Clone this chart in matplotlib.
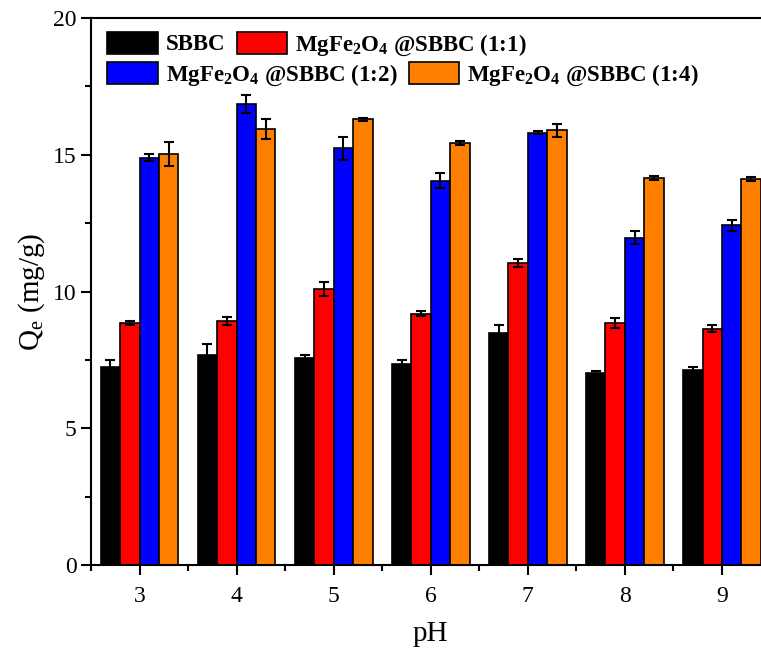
import numpy as np
import matplotlib
matplotlib.use('Agg')
import matplotlib.pyplot as plt
from matplotlib.ticker import MultipleLocator

plt.rcParams['font.family'] = ['Liberation Serif', 'DejaVu Serif']
plt.rcParams['mathtext.fontset'] = 'custom'
plt.rcParams['mathtext.rm'] = 'Liberation Serif'
plt.rcParams['mathtext.default'] = 'regular'

ph = [3, 4, 5, 6, 7, 8, 9]

sbbc = [7.25, 7.67, 7.58, 7.34, 8.47, 7.03, 7.13]
sbbc_err = [0.25, 0.41, 0.10, 0.16, 0.30, 0.07, 0.11]

mf_11 = [8.86, 8.93, 10.08, 9.19, 11.04, 8.84, 8.64]
mf_11_err = [0.07, 0.15, 0.25, 0.08, 0.16, 0.19, 0.13]

mf_12 = [14.89, 16.86, 15.23, 14.05, 15.81, 11.97, 12.42]
mf_12_err = [0.12, 0.32, 0.43, 0.27, 0.05, 0.23, 0.20]

mf_14 = [15.02, 15.93, 16.30, 15.44, 15.90, 14.15, 14.11]
mf_14_err = [0.44, 0.37, 0.05, 0.08, 0.24, 0.08, 0.06]

labels = ['SBBC',
          'MgFe$_2$O$_4$ @SBBC (1:1)',
          'MgFe$_2$O$_4$ @SBBC (1:2)',
          'MgFe$_2$O$_4$ @SBBC (1:4)']
colors = ['#000000', '#FF0000', '#0000FF', '#FF8000']


def draw_chart():
    fig = plt.figure(figsize=(7.61, 6.55), dpi=100)
    ax = fig.add_axes([91 / 761, 1 - 565 / 655, (770.5 - 91) / 761, (565 - 18) / 655])

    x = np.array(ph, dtype=float)
    width = 0.2
    series = [(sbbc, sbbc_err), (mf_11, mf_11_err), (mf_12, mf_12_err), (mf_14, mf_14_err)]
    handles = []
    for i, (vals, errs) in enumerate(series):
        offset = (i - 1.5) * width
        bars = ax.bar(x + offset, vals, width, color=colors[i], edgecolor='black',
                      linewidth=1.2, label=labels[i], zorder=2)
        ax.errorbar(x + offset, vals, yerr=errs, fmt='none', ecolor='black',
                    elinewidth=1.5, capsize=3.5, capthick=1.5, zorder=3)
        handles.append(bars)

    ax.set_xlim(2.5, 9.5)
    ax.set_ylim(0, 20)
    ax.set_xticks(ph)
    ax.xaxis.set_minor_locator(MultipleLocator(0.5))
    ax.yaxis.set_major_locator(MultipleLocator(5))
    ax.yaxis.set_minor_locator(MultipleLocator(2.5))
    ax.tick_params(which='major', direction='out', length=7, width=1.5, labelsize=17)
    ax.tick_params(which='minor', direction='out', length=4, width=1.5)
    ax.tick_params(axis='x', pad=8)
    for side in ['left', 'bottom', 'top', 'right']:
        ax.spines[side].set_linewidth(1.5)

    ax.set_xlabel('pH', fontsize=21, labelpad=10)
    ax.set_ylabel('Q$_e$ (mg/g)', fontsize=21, labelpad=4)

    leg_kw = dict(ncol=2, frameon=False, prop={'weight': 'bold', 'size': 16.5},
                  handlelength=2.2, handleheight=1.1, handletextpad=0.35,
                  columnspacing=0.5, borderaxespad=0, borderpad=0)
    leg1 = ax.legend(handles[:2], labels[:2], loc='upper left',
                     bbox_to_anchor=(0.024, 0.975), **leg_kw)
    ax.add_artist(leg1)
    ax.legend(handles[2:], labels[2:], loc='upper left',
              bbox_to_anchor=(0.024, 0.92), **leg_kw)

    fig.savefig('out.png', dpi=100)


if __name__ == '__main__':
    draw_chart()
